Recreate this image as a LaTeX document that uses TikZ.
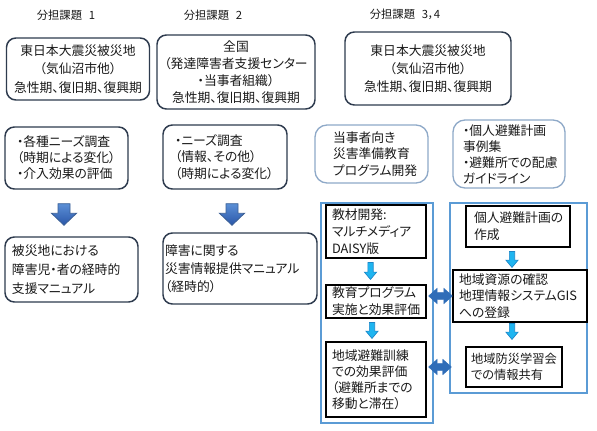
\documentclass[tikz,border=0pt]{standalone}
\usepackage{fontspec}
\setmainfont{Noto Sans CJK JP}[RawFeature=+palt]
\usetikzlibrary{calc}
\definecolor{navyline}{HTML}{2E3B4E}
\definecolor{softline}{HTML}{8EA9C8}
\definecolor{frameblue}{HTML}{5B9BD5}
\definecolor{arrtop}{HTML}{5B8FD6}
\definecolor{arrbot}{HTML}{2A56A8}
\definecolor{arredge}{HTML}{3A5F95}
\definecolor{cyanfill}{HTML}{1FB5F0}
\definecolor{cyanedge}{HTML}{1C86C8}
\definecolor{dblfill}{HTML}{2F6DB8}
\definecolor{txt}{HTML}{1A1A1A}
\begin{document}
\begin{tikzpicture}[x=0.75pt,y=-0.75pt,
  sz/.style 2 args={minimum width=#1*0.75pt, minimum height=#2*0.75pt},
  tw/.style={text width=#1*0.75pt},
  ls/.style={font=\fontsize{9.6pt}{#1}\selectfont},
  title/.style={font=\fontsize{8.5pt}{10pt}\selectfont, text=txt},
  rbox/.style={draw=navyline, line width=1.1pt, rounded corners=7pt, fill=white, inner sep=0pt, text=txt, align=center},
  lbox/.style={draw=softline, line width=1pt, rounded corners=9pt, fill=white, inner sep=0pt, text=txt, align=left},
  framebox/.style={draw=frameblue, line width=0.9pt, fill=white, inner sep=0pt},
  ibox/.style={draw=black, line width=0.85pt, fill=white, inner sep=0pt, text=txt, align=left},
  fatarr/.style={draw=arredge, line width=0.6pt, top color=arrtop, bottom color=arrbot,
    to path={let \p1=(\tikztostart), \p2=(\tikztotarget) in
      (\x1-4.5pt,\y1) -- (\x1+4.5pt,\y1) -- (\x1+4.5pt,\y2+9pt) -- (\x1+9.4pt,\y2+9pt)
      -- (\x1,\y2) -- (\x1-9.4pt,\y2+9pt) -- (\x1-4.5pt,\y2+9pt) -- cycle}},
  cyanarr/.style={draw=cyanedge, line width=0.5pt, fill=cyanfill,
    to path={let \p1=(\tikztostart), \p2=(\tikztotarget) in
      (\x1-2pt,\y1) -- (\x1+2pt,\y1) -- (\x1+2pt,\y2+5.5pt) -- (\x1+4.6pt,\y2+5.5pt)
      -- (\x1,\y2) -- (\x1-4.6pt,\y2+5.5pt) -- (\x1-2pt,\y2+5.5pt) -- cycle}},
  dblarr/.style={fill=dblfill, draw=dblfill, line width=0.3pt,
    to path={let \p1=(\tikztostart), \p2=(\tikztotarget) in
      (\x1,\y1) -- (\x1+6.5pt,\y1+5.8pt) -- (\x1+6.5pt,\y1+2.8pt) -- (\x2-6.5pt,\y1+2.8pt)
      -- (\x2-6.5pt,\y1+5.8pt) -- (\x2,\y1) -- (\x2-6.5pt,\y1-5.8pt) -- (\x2-6.5pt,\y1-2.8pt)
      -- (\x1+6.5pt,\y1-2.8pt) -- (\x1+6.5pt,\y1-5.8pt) -- cycle}}
]
\useasboundingbox[fill=white] (0,0) rectangle (597,431);

% titles
\node[title] (t1) at (66,15) {分担課題\hspace{0.6em}1};
\node[title] (t2) at (213,15) {分担課題\hspace{0.6em}2};
\node[title] (t3) at (405,14) {分担課題\hspace{0.6em}3，4};

% top row
\node[rbox, sz={143}{62}, ls=14pt] (b1) at (78,69)
  {東日本大震災被災地\\（気仙沼市他）\\急性期、復旧期、復興期};
\node[rbox, sz={158}{74}, ls=12.6pt] (b2) at (236,72)
  {全国\\（発達障害者支援センター\\・当事者組織）\\急性期、復旧期、復興期};
\node[rbox, sz={166}{73}, ls=13.5pt] (b3) at (428,68.5)
  {東日本大震災被災地\\（気仙沼市他）\\急性期、復旧期、復興期};

% middle row
\node[rbox, align=left, sz={123}{62}, tw=99, ls=12pt] (b4) at (66.5,158)
  {・各種ニーズ調査\\（時期による変化）\\・介入効果の評価};
\node[rbox, align=left, sz={124}{64}, tw=100, ls=12.4pt] (b5) at (225,157)
  {・ニーズ調査\\（情報、その他）\\（時期による変化）};
\node[lbox, sz={113}{58}, tw=77, ls=12.4pt] (b8) at (371.5,154)
  {当事者向き\\災害準備教育\\プログラム開発};
\node[lbox, sz={112}{68}, tw=92, ls=12pt] (b9) at (509,154)
  {・個人避難計画\\事例集\\・避難所での配慮\\ガイドライン};

% bottom row (left)
\node[rbox, align=left, sz={133}{65}, tw=119, ls=14pt] (b6) at (71.5,269.5)
  {被災地における\\障害児・者の経時的\\支援マニュアル};
\node[rbox, align=left, sz={154}{71}, tw=150, ls=13.5pt] (b7) at (240,268.5)
  {障害に関する\\災害情報提供マニュアル\\（経時的）};

% frames
\node[framebox, sz={112}{220}] (FL) at (377,313) {};
\node[framebox, sz={137}{190}] (FR) at (518.5,298) {};

% inner boxes
\node[ibox, sz={100}{53}, tw=88, ls=12.8pt] (L1) at (376,231.5)
  {教材開発:\\マルチメディア\\DAISY版};
\node[ibox, sz={100}{33}, tw=88, ls=12.8pt] (L2) at (376,301.5)
  {教育プログラム\\実施と効果評価};
\node[ibox, sz={100}{75}, tw=88, ls=12pt] (L3) at (376,379.5)
  {地域避難訓練\\での効果評価\\（避難所までの\\移動と滞在）};
\node[ibox, sz={104}{41}, tw=88, ls=12.8pt] (R1) at (518,226.5)
  {個人避難計画の\\作成};
\node[ibox, sz={134}{52}, tw=122, ls=12.6pt] (R2) at (520,296)
  {地域資源の確認\\地理情報システムGIS\\への登録};
\node[ibox, sz={96}{40}, tw=86, font=\fontsize{9.2pt}{12.4pt}\selectfont] (R3) at (514,367)
  {地域防災学習会\\での情報共有};

% block arrows
\path[fatarr] ($(b4.south)+(-2.5,14)$) to ($(b6.north)+(-2.5,-11)$);
\path[fatarr] ($(b5.south)+(7,14)$) to ($(b7.north)+(7,-7)$);

% cyan arrows
\path[cyanarr] ($(L1.south)+(-5.5,4)$) to ($(L2.north)+(-5.5,-5)$);
\path[cyanarr] ($(L2.south)+(-4,4)$) to ($(L3.north)+(-4,-3)$);
\path[cyanarr] ($(R1.south)+(-6,4)$) to ($(R2.north)+(-6,-2)$);
\path[cyanarr] ($(R2.south)+(-8,1)$) to ($(R3.north)+(-3,-7)$);

% double arrows
\path[dblarr] ($(L2.east)+(2,-5.5)$) to ($(R2.west)+(0,0)$);
\path[dblarr] ($(L3.east)+(2,-12.5)$) to ($(FR.west)+(2,0)$);
\end{tikzpicture}
\end{document}
